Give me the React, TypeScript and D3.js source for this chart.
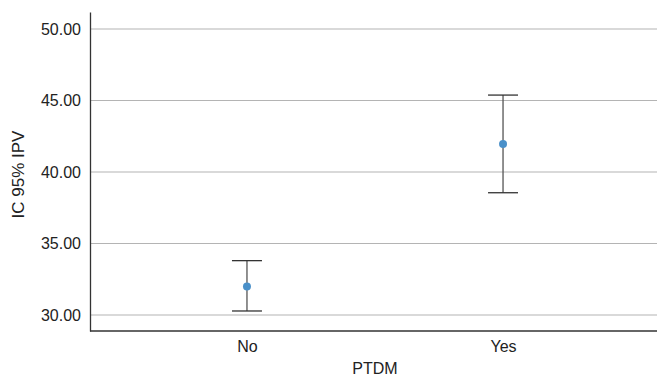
import React, { useEffect, useRef } from 'react';
import * as d3 from 'd3';

// groups and their means with 95% CI bounds
const groups = ['No', 'Yes'];
const means = [32.0, 41.95];
const lower = [30.28, 38.55];
const upper = [33.8, 45.38];
const yTicks = [30, 35, 40, 45, 50];

const W = 657;
const H = 378;

const App = () => {
    const ref = useRef<SVGSVGElement>(null);

    useEffect(() => {
        if (!ref.current) return;
        const svg = d3.select(ref.current);
        svg.selectAll('*').remove();

        const left = 90, top = 12, bottom = 331, right = W;
        const font = 'Liberation Sans, Arial, sans-serif';
        const fs = 16;

        const x = d3.scalePoint<string>().domain(groups).range([left, 660]).padding(0.613);
        const y = d3.scaleLinear().domain([28.88, 51.19]).range([bottom, top]);

        // gridlines
        svg.append('g')
            .selectAll('line')
            .data(yTicks)
            .join('line')
            .attr('x1', left)
            .attr('x2', right)
            .attr('y1', d => y(d))
            .attr('y2', d => y(d))
            .attr('stroke', '#b4b4b4')
            .attr('stroke-width', 1.2);

        // y axis
        const yAxis = svg.append('g')
            .attr('transform', `translate(${left},0)`)
            .call(d3.axisLeft(y).tickValues(yTicks).tickFormat(d3.format('.2f')).tickSize(0).tickPadding(9));
        yAxis.select('.domain').attr('stroke', '#333').attr('stroke-width', 1.3);
        yAxis.selectAll('text').attr('font-family', font).attr('font-size', fs).attr('fill', '#222');

        // x axis
        const xAxis = svg.append('g')
            .attr('transform', `translate(0,${bottom})`)
            .call(d3.axisBottom(x).tickSize(0).tickPadding(10));
        xAxis.select('.domain').attr('d', `M${left},0H${right}`).attr('stroke', '#333').attr('stroke-width', 1.3);
        xAxis.selectAll('text').attr('font-family', font).attr('font-size', fs).attr('fill', '#222');

        // error bars
        const bars = svg.append('g')
            .selectAll('g')
            .data(groups)
            .join('g');
        bars.append('line')
            .attr('x1', d => x(d)!)
            .attr('x2', d => x(d)!)
            .attr('y1', (d, i) => y(upper[i]))
            .attr('y2', (d, i) => y(lower[i]))
            .attr('stroke', '#555')
            .attr('stroke-width', 1.3);
        bars.append('line')
            .attr('x1', d => x(d)! - 15)
            .attr('x2', d => x(d)! + 15)
            .attr('y1', (d, i) => y(upper[i]))
            .attr('y2', (d, i) => y(upper[i]))
            .attr('stroke', '#333')
            .attr('stroke-width', 1.3);
        bars.append('line')
            .attr('x1', d => x(d)! - 15)
            .attr('x2', d => x(d)! + 15)
            .attr('y1', (d, i) => y(lower[i]))
            .attr('y2', (d, i) => y(lower[i]))
            .attr('stroke', '#333')
            .attr('stroke-width', 1.3);
        bars.append('circle')
            .attr('cx', d => x(d)!)
            .attr('cy', (d, i) => y(means[i]))
            .attr('r', 4)
            .attr('fill', '#4a90c9');

        // axis titles
        svg.append('text')
            .attr('x', (left + 660) / 2)
            .attr('y', 374)
            .attr('text-anchor', 'middle')
            .attr('font-family', font)
            .attr('font-size', fs)
            .attr('fill', '#222')
            .text('PTDM');
        svg.append('text')
            .attr('transform', `translate(24,${(top + bottom) / 2 + 3}) rotate(-90)`)
            .attr('text-anchor', 'middle')
            .attr('font-family', font)
            .attr('font-size', fs + 1)
            .attr('fill', '#222')
            .text('IC 95% IPV');
    }, []);

    return (
        <svg ref={ref} width={W} height={H} style={{ position: 'absolute', left: 0, top: 0, background: '#fff' }} />
    );
};

export default App;
